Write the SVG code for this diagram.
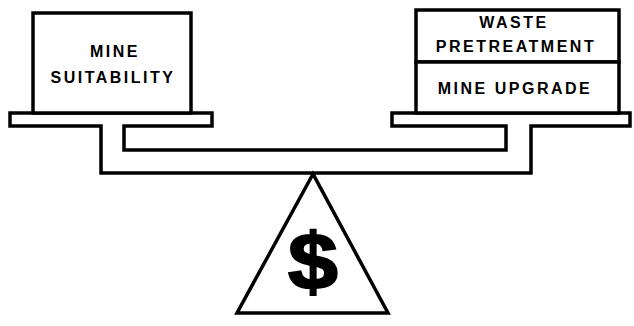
<svg xmlns="http://www.w3.org/2000/svg" width="634" height="326" viewBox="0 0 634 326">
<style>
.ln{fill:none;stroke:#000;stroke-width:3.5;stroke-linejoin:miter}
.bx{fill:#fff;stroke:#000;stroke-width:3.5}
.t{font-family:"Liberation Sans",Arial,sans-serif;font-weight:bold;font-size:16px;letter-spacing:2.5px;text-anchor:middle;fill:#000}
.d{font-family:"Liberation Sans",Arial,sans-serif;font-weight:bold;font-size:80px;text-anchor:middle;fill:#000;stroke:#000;stroke-width:2}
</style>
<rect width="634" height="326" fill="#fff"/>
<g id="connectors">
<path class="ln" d="M10,113 H212 V126 H124 V150 H506 V126 H392 V113 H630 V126 H531 V173 H101 V126 H10 Z"/>
</g>
<g id="mine-suitability">
<rect class="bx" x="33" y="13" width="158" height="100"/>
<text class="t" x="115" y="57">MINE</text>
<text class="t" x="113" y="83">SUITABILITY</text>
</g>
<g id="waste-pretreatment">
<rect class="bx" x="416" y="10" width="203" height="52"/>
<text class="t" x="514" y="28">WASTE</text>
<text class="t" x="516" y="52">PRETREATMENT</text>
</g>
<g id="mine-upgrade">
<rect class="bx" x="416" y="62" width="203" height="51"/>
<text class="t" x="515" y="94">MINE UPGRADE</text>
</g>
<g id="fulcrum">
<path class="ln" stroke-width="3" d="M313,174 L237,313 H388 Z"/>
<text class="d" transform="translate(313,289) scale(1.12,1)" x="0" y="0">$</text>
</g>
</svg>
